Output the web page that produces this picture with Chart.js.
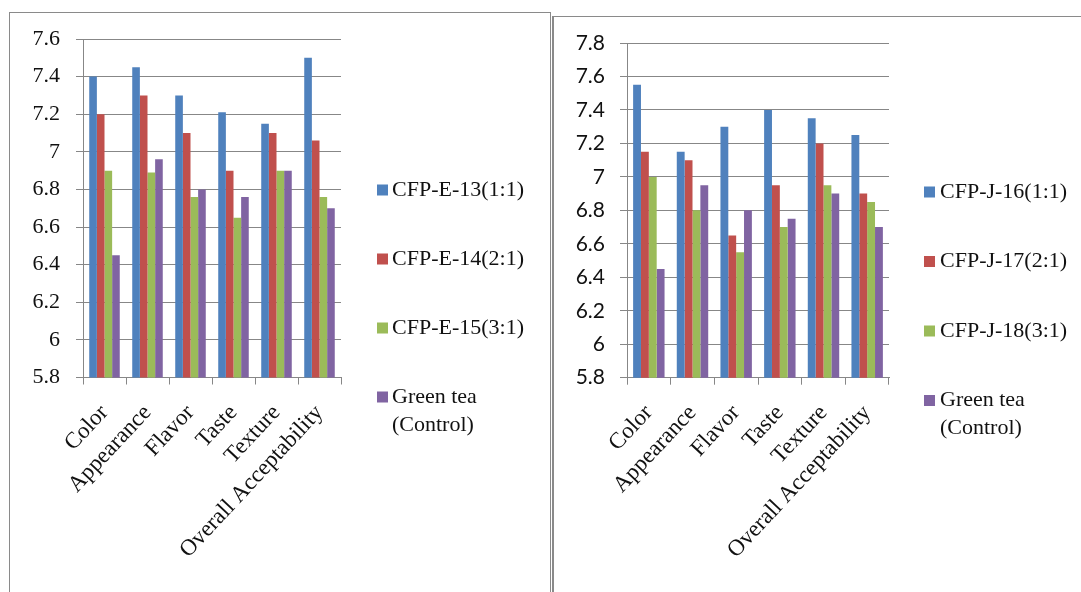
<!DOCTYPE html>
<html>
<head>
<meta charset="utf-8">
<script src="https://cdn.jsdelivr.net/npm/chart.js@4/dist/chart.umd.min.js"></script>
<style>
  html, body { margin: 0; padding: 0; background: #fff; }
  body { width: 1081px; height: 592px; position: relative; overflow: hidden; }
  .panel { position: absolute; border: 1px solid #8a8a8a; box-sizing: border-box; }
  canvas { position: absolute; top: 0; }
</style>
</head>
<body>
<div class="panel" style="left:9px; top:12px; width:542px; height:600px;"></div>
<div class="panel" style="left:552px; top:16px; width:540px; height:600px; border-left:2px solid #8a8a8a;"></div>
<canvas id="left" width="551" height="592" style="left:0"></canvas>
<canvas id="right" width="530" height="592" style="left:551px"></canvas>
<script>
// Sensory attributes scored for each tea blend
const attributes = ['Color', 'Appearance', 'Flavor', 'Taste', 'Texture', 'Overall Acceptability'];

// Panel E blends
const seriesE = ['CFP-E-13(1:1)', 'CFP-E-14(2:1)', 'CFP-E-15(3:1)', 'Green tea\n(Control)'];
const e13 = [7.40, 7.45, 7.30, 7.21, 7.15, 7.50];
const e14 = [7.20, 7.30, 7.10, 6.90, 7.10, 7.06];
const e15 = [6.90, 6.89, 6.76, 6.65, 6.90, 6.76];
const controlE = [6.45, 6.96, 6.80, 6.76, 6.90, 6.70];
const yTicksE = [5.8, 6, 6.2, 6.4, 6.6, 6.8, 7, 7.2, 7.4, 7.6];

// Panel J blends
const seriesJ = ['CFP-J-16(1:1)', 'CFP-J-17(2:1)', 'CFP-J-18(3:1)', 'Green tea\n(Control)'];
const j16 = [7.55, 7.15, 7.30, 7.40, 7.35, 7.25];
const j17 = [7.15, 7.10, 6.65, 6.95, 7.20, 6.90];
const j18 = [7.00, 6.80, 6.55, 6.70, 6.95, 6.85];
const controlJ = [6.45, 6.95, 6.80, 6.75, 6.90, 6.70];
const yTicksJ = [5.8, 6, 6.2, 6.4, 6.6, 6.8, 7, 7.2, 7.4, 7.6, 7.8];

const palette = ['#4F81BD', '#C0504D', '#9BBB59', '#8064A2'];
const gridColor = '#878787';
const serif = '"Liberation Serif", "Times New Roman", serif';

// Legend drawn to the right of the plot, one entry per dataset
const sideLegend = {
  id: 'sideLegend',
  afterDraw(chart, args, opts) {
    const ctx = chart.ctx;
    ctx.save();
    ctx.font = opts.fontSize + 'px ' + serif;
    ctx.textBaseline = 'middle';
    ctx.textAlign = 'left';
    chart.data.datasets.forEach((ds, i) => {
      const y = opts.y + i * opts.gap;
      ctx.fillStyle = ds.backgroundColor;
      ctx.fillRect(opts.x, y - opts.box / 2, opts.box, opts.box);
      ctx.fillStyle = '#111';
      ds.label.split('\n').forEach((line, k) => {
        ctx.fillText(line, opts.textX, y + k * opts.lineHeight);
      });
    });
    ctx.restore();
  }
};

function makeChart(id, names, values, yTicks, layout) {
  return new Chart(document.getElementById(id), {
    type: 'bar',
    data: {
      labels: attributes,
      datasets: names.map((n, i) => ({
        label: n,
        data: values[i],
        backgroundColor: palette[i],
        borderWidth: 0,
        barPercentage: 1,
        categoryPercentage: layout.catPct
      }))
    },
    options: {
      responsive: false,
      animation: false,
      devicePixelRatio: 1,
      layout: { padding: { left: 0, top: layout.top, right: layout.right, bottom: 0 } },
      plugins: {
        legend: { display: false },
        tooltip: { enabled: false },
        sideLegend: layout.legend
      },
      scales: {
        x: {
          afterFit(scale) { scale.height = layout.xHeight; },
          grid: { drawOnChartArea: false, drawTicks: true, tickLength: 7, color: gridColor, offset: true },
          border: { color: gridColor, width: 1 },
          ticks: {
            color: '#111',
            font: { family: serif, size: 23 },
            minRotation: 47, maxRotation: 47,
            padding: 15,
            autoSkip: false
          }
        },
        y: {
          min: yTicks[0],
          max: yTicks[yTicks.length - 1],
          afterFit(scale) { scale.width = layout.yWidth; },
          afterBuildTicks(scale) { scale.ticks = yTicks.map(v => ({ value: v })); },
          grid: { color: gridColor, lineWidth: 1, tickLength: 7 },
          border: { color: gridColor, width: 1 },
          ticks: {
            color: '#111',
            font: layout.yFont,
            padding: layout.yPad,
            callback: v => String(Number(v.toFixed(1)))
          }
        }
      }
    },
    plugins: [sideLegend]
  });
}

makeChart('left', seriesE, [e13, e14, e15, controlE], yTicksE, {
  top: 39, right: 210, yWidth: 83, xHeight: 214.5, catPct: 0.71, yPad: 16,
  yFont: { family: serif, size: 22 },
  legend: { x: 377, textX: 392, y: 190, gap: 69, box: 11, fontSize: 22, lineHeight: 28 }
});

makeChart('right', seriesJ, [j16, j17, j18, controlJ], yTicksJ, {
  top: 43, right: 192, yWidth: 76, xHeight: 214.3, catPct: 0.72, yPad: 15,
  yFont: { family: 'Lato, "Open Sans", sans-serif', size: 21 },
  legend: { x: 373, textX: 389, y: 192, gap: 69.5, box: 11, fontSize: 22, lineHeight: 28 }
});
</script>
</body>
</html>
